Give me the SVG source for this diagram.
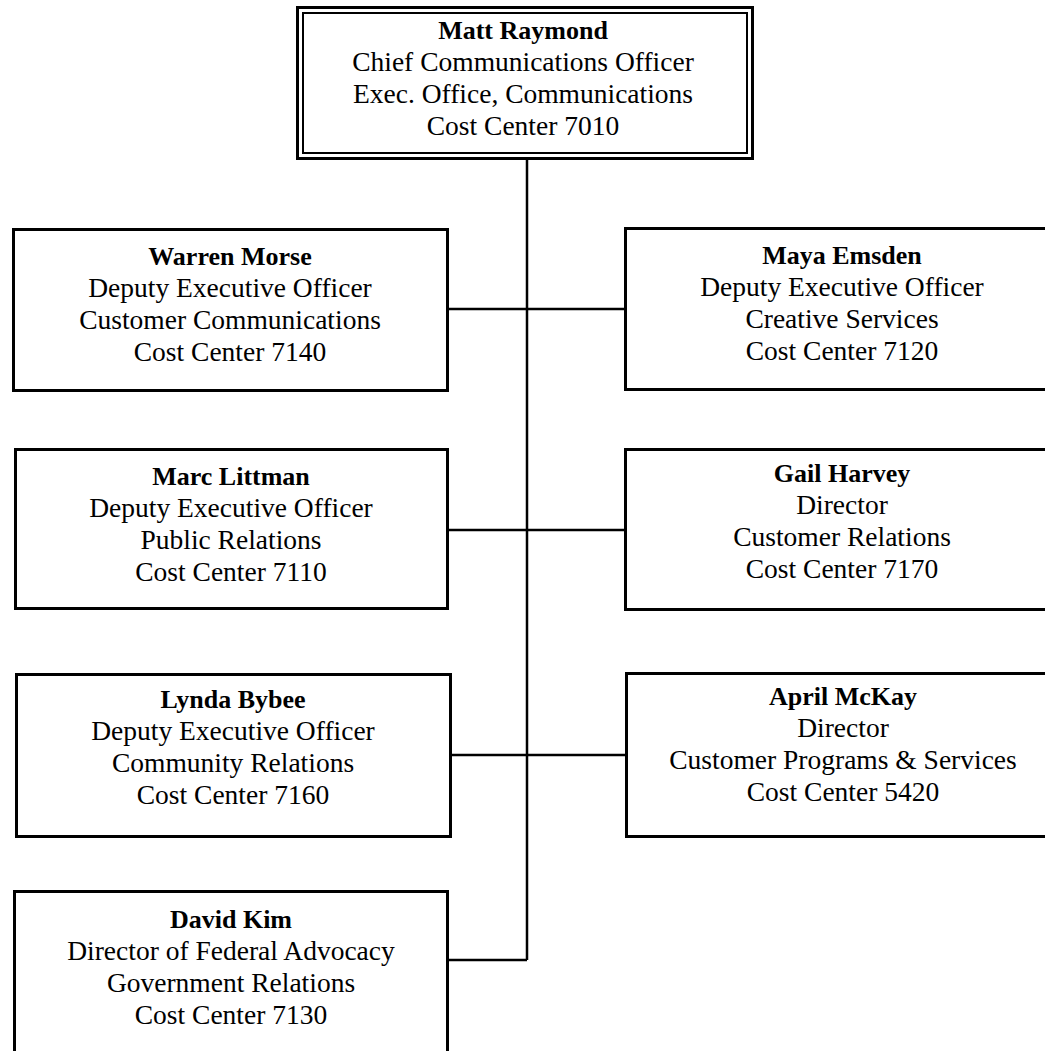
<svg xmlns="http://www.w3.org/2000/svg" width="1045" height="1051" viewBox="0 0 1045 1051">
<style>
.box{fill:#fff;stroke:#000;stroke-width:3}
.inner{fill:none;stroke:#000;stroke-width:2}
.conn{fill:none;stroke:#000;stroke-width:2.5}
text{font-family:"Liberation Serif","Times New Roman",serif;font-size:27.5px;fill:#000;text-anchor:middle}
.nm{font-weight:bold;font-size:26px}
</style>
<rect width="1045" height="1051" fill="#fff"/>
<g id="connectors">
<path class="conn" d="M527,158 V960"/>
<path class="conn" d="M447,309 H625"/>
<path class="conn" d="M447,530 H625"/>
<path class="conn" d="M450,755 H626"/>
<path class="conn" d="M447,960 H527"/>
</g>
<g id="matt-raymond">
<rect class="box" x="297.5" y="7.5" width="455" height="151"/>
<rect class="inner" x="303" y="13" width="444" height="140"/>
<text x="523" y="39" class="nm">Matt Raymond</text>
<text x="523" y="71">Chief Communications Officer</text>
<text x="523" y="103">Exec. Office, Communications</text>
<text x="523" y="135">Cost Center 7010</text>
</g>
<g id="warren-morse">
<rect class="box" x="13.5" y="229.5" width="434" height="161"/>
<text x="230" y="265" class="nm">Warren Morse</text>
<text x="230" y="297">Deputy Executive Officer</text>
<text x="230" y="329">Customer Communications</text>
<text x="230" y="361">Cost Center 7140</text>
</g>
<g id="maya-emsden">
<rect class="box" x="625.5" y="228.5" width="434" height="161"/>
<text x="842" y="264" class="nm">Maya Emsden</text>
<text x="842" y="296">Deputy Executive Officer</text>
<text x="842" y="328">Creative Services</text>
<text x="842" y="360">Cost Center 7120</text>
</g>
<g id="marc-littman">
<rect class="box" x="15.5" y="449.5" width="432" height="159"/>
<text x="231" y="485" class="nm">Marc Littman</text>
<text x="231" y="517">Deputy Executive Officer</text>
<text x="231" y="549">Public Relations</text>
<text x="231" y="581">Cost Center 7110</text>
</g>
<g id="gail-harvey">
<rect class="box" x="625.5" y="449.5" width="434" height="160"/>
<text x="842" y="482" class="nm">Gail Harvey</text>
<text x="842" y="514">Director</text>
<text x="842" y="546">Customer Relations</text>
<text x="842" y="578">Cost Center 7170</text>
</g>
<g id="lynda-bybee">
<rect class="box" x="16.5" y="674.5" width="434" height="162"/>
<text x="233" y="708" class="nm">Lynda Bybee</text>
<text x="233" y="740">Deputy Executive Officer</text>
<text x="233" y="772">Community Relations</text>
<text x="233" y="804">Cost Center 7160</text>
</g>
<g id="april-mckay">
<rect class="box" x="626.5" y="673.5" width="434" height="163"/>
<text x="843" y="705" class="nm">April McKay</text>
<text x="843" y="737">Director</text>
<text x="843" y="769">Customer Programs &amp; Services</text>
<text x="843" y="801">Cost Center 5420</text>
</g>
<g id="david-kim">
<rect class="box" x="14.5" y="891.5" width="433" height="175"/>
<text x="231" y="928" class="nm">David Kim</text>
<text x="231" y="960">Director of Federal Advocacy</text>
<text x="231" y="992">Government Relations</text>
<text x="231" y="1024">Cost Center 7130</text>
</g>
</svg>
